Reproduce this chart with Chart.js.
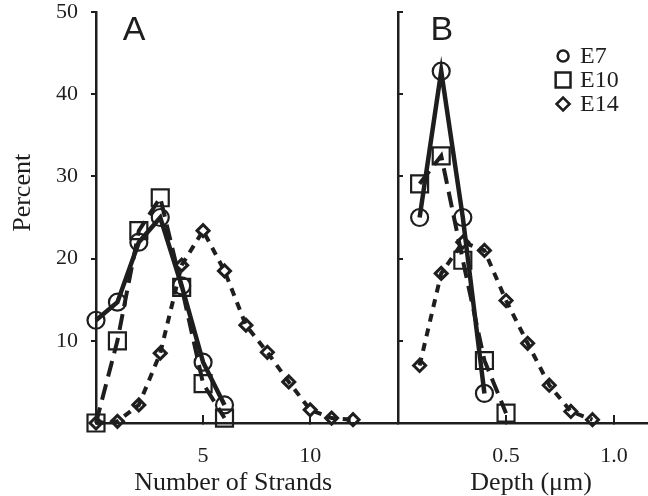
<!DOCTYPE html>
<html>
<head>
<meta charset="utf-8">
<script src="https://cdn.jsdelivr.net/npm/chart.js@4.4.0/dist/chart.umd.min.js"></script>
<style>
  html, body { margin: 0; padding: 0; background: #fff; }
  #wrap { position: relative; width: 648px; height: 496px; }
  canvas { position: absolute; left: 0; top: 0; }
</style>
</head>
<body>
<div id="wrap">
  <canvas id="chartA" width="648" height="496"></canvas>
  <canvas id="chartB" width="648" height="496"></canvas>
</div>
<script>
// Panel A: percent of junctions by number of strands
const strands = [0, 1, 2, 3, 4, 5, 6, 7, 8, 9, 10, 11, 12];
const strandsE7 = [12.5, 14.7, 22, 25, 16.7, 7.4, 2.2];
const strandsE10 = [0, 10, 23.4, 27.4, 16.5, 4.8, 0.6];
const strandsE14 = [0, 0.2, 2.2, 8.5, 19.2, 23.4, 18.5, 11.9, 8.6, 5.0, 1.6, 0.6, 0.4];

// Panel B: percent by depth (um)
const depth = [0.1, 0.2, 0.3, 0.4, 0.5, 0.6, 0.7, 0.8, 0.9];
const depthE7 = [25, 42.8, 25, 3.6];
const depthE10 = [29.1, 32.5, 19.8, 7.6, 1.2];
const depthE14 = [7.0, 18.2, 22, 21, 14.9, 9.7, 4.6, 1.4, 0.4];

const seriesNames = ["E7", "E10", "E14"];
const percentTicks = [10, 20, 30, 40, 50];
const strandTicks = [5, 10];
const depthTicks = [0.5, 1.0];

const ink = "#1e1e1e";
const serif = '"Liberation Serif", "Times New Roman", serif';
const sans = '"Liberation Sans", Arial, sans-serif';
const tickFont = { family: serif, size: 22 };

// line and marker look of each series
const looks = [
  { pointStyle: "circle", pointRadius: 8.5, pointBorderWidth: 2.2, borderWidth: 4.5, borderDash: [], keyRadius: 5.5 },
  { pointStyle: "rect", pointRadius: 12, pointBorderWidth: 2.2, borderWidth: 4, borderDash: [16, 8], keyRadius: 10.5 },
  { pointStyle: "rectRot", pointRadius: 6, pointBorderWidth: 3, borderWidth: 4, borderDash: [8, 7], keyRadius: 6.5 },
];

function makeDatasets(xs, lists) {
  return lists.map((ys, i) => ({
    label: seriesNames[i],
    data: ys.map((y, j) => ({ x: xs[j], y: y })),
    borderColor: ink,
    backgroundColor: "rgba(0,0,0,0)",
    pointBackgroundColor: "rgba(0,0,0,0)",
    pointBorderColor: ink,
    pointStyle: looks[i].pointStyle,
    pointRadius: looks[i].pointRadius,
    pointBorderWidth: looks[i].pointBorderWidth,
    borderWidth: looks[i].borderWidth,
    borderDash: looks[i].borderDash,
    tension: 0,
    fill: false,
    clip: false,
  }));
}

// free text (titles, panel letters) placed through the scales
function textPlugin(items) {
  return {
    id: "panelText",
    afterDraw(chart) {
      const ctx = chart.ctx;
      const xs = chart.scales.x, ys = chart.scales.y;
      items.forEach((it) => {
        ctx.save();
        ctx.font = it.font;
        ctx.fillStyle = ink;
        ctx.textAlign = it.align || "center";
        ctx.textBaseline = it.baseline || "middle";
        const px = it.xv !== undefined ? xs.getPixelForValue(it.xv) : it.px;
        const py = it.yv !== undefined ? ys.getPixelForValue(it.yv) : it.py;
        ctx.translate(px, py);
        if (it.rot) ctx.rotate(it.rot);
        ctx.fillText(it.text, 0, 0);
        ctx.restore();
      });
    },
  };
}

// series key in panel B
function keyPlugin() {
  return {
    id: "seriesKey",
    afterDraw(chart) {
      const ctx = chart.ctx;
      const mx = chart.scales.x.getPixelForValue(0.764);
      chart.data.datasets.forEach((ds, i) => {
        const y = 56 + i * 24;
        ctx.save();
        ctx.strokeStyle = ink;
        ctx.fillStyle = "rgba(0,0,0,0)";
        ctx.lineWidth = 2.5;
        Chart.helpers.drawPoint(ctx, { pointStyle: looks[i].pointStyle, radius: looks[i].keyRadius, rotation: 0, borderWidth: 2.5 }, mx, y);
        ctx.fillStyle = ink;
        ctx.font = "24px " + serif;
        ctx.textAlign = "left";
        ctx.textBaseline = "middle";
        ctx.fillText(ds.label, mx + 17, y + 1);
        ctx.restore();
      });
    },
  };
}

function yScale(width, tickLength, showLabels) {
  return {
    min: 0,
    max: 50,
    afterBuildTicks: (s) => { s.ticks = percentTicks.map((v) => ({ value: v })); },
    afterFit: (s) => { s.width = width; s.paddingTop = 0; s.paddingBottom = 0; },
    border: { color: ink, width: 2.5 },
    grid: { drawOnChartArea: false, color: ink, lineWidth: 2, tickLength: tickLength },
    ticks: { font: tickFont, color: ink, padding: 13, callback: (v) => (showLabels ? v : "") },
  };
}

function xScale(max, ticks, fmt) {
  return {
    type: "linear",
    min: 0,
    max: max,
    afterBuildTicks: (s) => { s.ticks = ticks.map((v) => ({ value: v })); },
    afterFit: (s) => { s.height = 73; s.paddingLeft = 0; s.paddingRight = 0; },
    border: { color: ink, width: 2.5 },
    grid: { drawOnChartArea: false, color: ink, lineWidth: 2, tickLength: -8 },
    ticks: { font: tickFont, color: ink, padding: 28, maxRotation: 0, callback: fmt },
  };
}

const baseOptions = {
  responsive: false,
  animation: false,
  events: [],
  plugins: { legend: { display: false }, tooltip: { enabled: false } },
};

new Chart(document.getElementById("chartA"), {
  type: "line",
  data: { datasets: makeDatasets(strands, [strandsE7, strandsE10, strandsE14]) },
  options: {
    ...baseOptions,
    layout: { autoPadding: false, padding: { top: 12, right: 250, left: 0, bottom: 0 } },
    scales: {
      x: xScale(14.1, strandTicks, (v) => v),
      y: yScale(96, 5, true),
    },
  },
  plugins: [
    textPlugin([
      { text: "A", font: "34px " + sans, xv: 1.25, py: 40, align: "left", baseline: "alphabetic" },
      { text: "Number of Strands", font: "26px " + serif, xv: 6.4, py: 483 },
      { text: "Percent", font: "26px " + serif, px: 23, yv: 28, rot: -Math.PI / 2 },
    ]),
  ],
});

new Chart(document.getElementById("chartB"), {
  type: "line",
  data: { datasets: makeDatasets(depth, [depthE7, depthE10, depthE14]) },
  options: {
    ...baseOptions,
    layout: { autoPadding: false, padding: { top: 12, right: 0, left: 0, bottom: 0 } },
    scales: {
      x: xScale(1.157, depthTicks, (v) => v.toFixed(1)),
      y: yScale(398, -5, false),
    },
  },
  plugins: [
    textPlugin([
      { text: "B", font: "34px " + sans, xv: 0.15, py: 40, align: "left", baseline: "alphabetic" },
      { text: "Depth (μm)", font: "26px " + serif, xv: 0.616, py: 483 },
    ]),
    keyPlugin(),
  ],
});
</script>
</body>
</html>
